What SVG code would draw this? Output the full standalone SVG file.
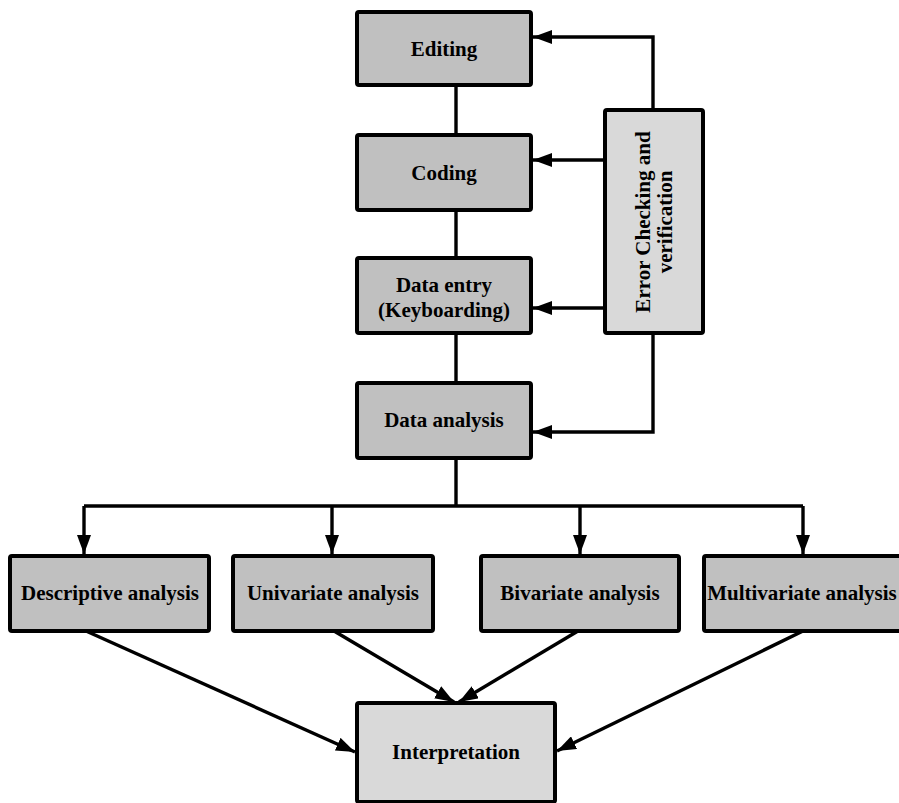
<svg xmlns="http://www.w3.org/2000/svg" width="899" height="803" viewBox="0 0 899 803">
  <defs>
    <marker id="arrow" markerUnits="userSpaceOnUse" markerWidth="20" markerHeight="14" refX="19" refY="7" orient="auto">
      <path d="M0,0 L19,7 L0,14 z" fill="#000"/>
    </marker>
    <style>
      .box { fill: #c0c0c0; stroke: #000; stroke-width: 4; }
      .lite { fill: #d9d9d9; stroke: #000; stroke-width: 4; }
      .lbl { font-family: "Liberation Serif", "Times New Roman", serif; font-weight: bold; font-size: 21px; fill: #000; text-anchor: middle; }
      .wire { fill: none; stroke: #000; stroke-width: 3.4; }
    </style>
  </defs>
  <rect width="899" height="803" fill="#fff"/>

  <g id="connectors">
    <!-- main vertical chain -->
    <path class="wire" d="M456,85 V135 M456,210 V258 M456,333 V383 M456,458 V506"/>
    <!-- branch bus -->
    <path class="wire" d="M84,506 H803"/>
    <path class="wire" d="M84,506 V554" marker-end="url(#arrow)"/>
    <path class="wire" d="M332,506 V554" marker-end="url(#arrow)"/>
    <path class="wire" d="M580,506 V554" marker-end="url(#arrow)"/>
    <path class="wire" d="M803,506 V554" marker-end="url(#arrow)"/>
    <!-- feedback from error checking -->
    <path class="wire" d="M653,110 V37 H533" marker-end="url(#arrow)"/>
    <path class="wire" d="M605,160 H533" marker-end="url(#arrow)"/>
    <path class="wire" d="M605,308 H533" marker-end="url(#arrow)"/>
    <path class="wire" d="M653,333 V432 H533" marker-end="url(#arrow)"/>
    <!-- analyses to interpretation -->
    <path class="wire" d="M86,631 L355,752" marker-end="url(#arrow)"/>
    <path class="wire" d="M334,631 L454,702" marker-end="url(#arrow)"/>
    <path class="wire" d="M578,631 L459,702" marker-end="url(#arrow)"/>
    <path class="wire" d="M803,631 L557,751" marker-end="url(#arrow)"/>
  </g>

  <g id="editing">
    <rect class="box" x="357" y="12" width="174" height="73" rx="2"/>
    <text class="lbl" x="444" y="56">Editing</text>
  </g>
  <g id="coding">
    <rect class="box" x="357" y="135" width="174" height="75" rx="2"/>
    <text class="lbl" x="444" y="180">Coding</text>
  </g>
  <g id="data-entry">
    <rect class="box" x="357" y="258" width="174" height="75" rx="2"/>
    <text class="lbl" x="444" y="292">Data entry</text>
    <text class="lbl" x="444" y="317">(Keyboarding)</text>
  </g>
  <g id="data-analysis">
    <rect class="box" x="357" y="383" width="174" height="75" rx="2"/>
    <text class="lbl" x="444" y="427">Data analysis</text>
  </g>
  <g id="error-checking">
    <rect class="lite" x="605" y="110" width="98" height="223" rx="2"/>
    <g transform="translate(654,222) rotate(-90)">
      <text class="lbl" x="0" y="-4">Error Checking and</text>
      <text class="lbl" x="0" y="18">verification</text>
    </g>
  </g>
  <g id="descriptive">
    <rect class="box" x="10" y="556" width="199" height="75" rx="2"/>
    <text class="lbl" x="110" y="600">Descriptive analysis</text>
  </g>
  <g id="univariate">
    <rect class="box" x="233" y="556" width="200" height="75" rx="2"/>
    <text class="lbl" x="333" y="600">Univariate analysis</text>
  </g>
  <g id="bivariate">
    <rect class="box" x="481" y="556" width="198" height="75" rx="2"/>
    <text class="lbl" x="580" y="600">Bivariate analysis</text>
  </g>
  <g id="multivariate">
    <rect class="box" x="704" y="556" width="200" height="75" rx="2"/>
    <text class="lbl" x="802" y="600">Multivariate analysis</text>
  </g>
  <g id="interpretation">
    <rect class="lite" x="357" y="703" width="198" height="99" rx="2"/>
    <text class="lbl" x="456" y="759">Interpretation</text>
  </g>
</svg>
